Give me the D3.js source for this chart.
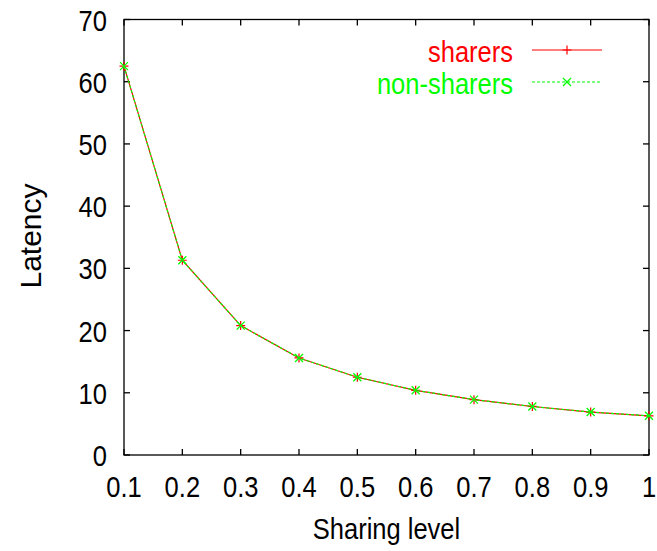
<!DOCTYPE html>
<html>
<head>
<meta charset="utf-8">
<script src="https://cdn.jsdelivr.net/npm/d3@7"></script>
<style>
  html, body { margin: 0; padding: 0; background: #fff; }
  svg { display: block; font-family: "Liberation Sans", Arial, sans-serif; }
</style>
</head>
<body>
<div id="chart"></div>
<script>
const sharingLevel = [0.1, 0.2, 0.3, 0.4, 0.5, 0.6, 0.7, 0.8, 0.9, 1.0];
const sharers = [62.5, 31.3, 20.8, 15.6, 12.5, 10.4, 8.9, 7.8, 6.9, 6.3];
const nonSharers = [62.5, 31.3, 20.8, 15.6, 12.5, 10.4, 8.9, 7.8, 6.9, 6.3];
const xTicks = [0.1, 0.2, 0.3, 0.4, 0.5, 0.6, 0.7, 0.8, 0.9, 1];
const yTicks = [0, 10, 20, 30, 40, 50, 60, 70];

const width = 657;
const height = 551;
const margin = { top: 19.5, right: 8, bottom: 96, left: 124 };
const fontSize = 29;
const squeeze = 0.88;

const svg = d3.select('#chart').append('svg')
  .attr('width', width)
  .attr('height', height);

const scaleX = d3.scaleLinear().domain([0.1, 1]).range([margin.left, width - margin.right]);
const scaleY = d3.scaleLinear().domain([0, 70]).range([height - margin.bottom, margin.top]);

const x0 = scaleX.range()[0], x1 = scaleX.range()[1];
const y0 = scaleY.range()[0], y1 = scaleY.range()[1];
const tickLen = 6;

// helper: narrow-ish text like the gnuplot output
function label(x, y, txt, anchor, color) {
  return svg.append('text')
    .attr('transform', `translate(${x},${y}) scale(${squeeze},1)`)
    .attr('text-anchor', anchor)
    .attr('font-size', fontSize)
    .attr('fill', color || '#000')
    .text(txt);
}

// ticks on all four sides
const tickG = svg.append('g').attr('stroke', '#000').attr('stroke-width', 1.3);
xTicks.forEach(t => {
  const x = scaleX(t);
  tickG.append('line').attr('x1', x).attr('x2', x).attr('y1', y0).attr('y2', y0 - tickLen);
  tickG.append('line').attr('x1', x).attr('x2', x).attr('y1', y1).attr('y2', y1 + tickLen);
  label(x, y0 + 42, t === 1 ? '1' : t.toFixed(1), 'middle');
});
yTicks.forEach(t => {
  const y = scaleY(t);
  tickG.append('line').attr('x1', x0).attr('x2', x0 + tickLen).attr('y1', y).attr('y2', y);
  tickG.append('line').attr('x1', x1).attr('x2', x1 - tickLen).attr('y1', y).attr('y2', y);
  label(x0 - 17, y + 11, String(t), 'end');
});

// frame
svg.append('rect')
  .attr('x', x0).attr('y', y1)
  .attr('width', x1 - x0).attr('height', y0 - y1)
  .attr('fill', 'none').attr('stroke', '#000').attr('stroke-width', 1.3);

// axis titles
label((x0 + x1) / 2, 539, 'Sharing level', 'middle');
svg.append('text')
  .attr('transform', 'translate(41,236) rotate(-90)')
  .attr('text-anchor', 'middle')
  .attr('font-size', 30)
  .text('Latency');

const line = d3.line()
  .x((d, i) => scaleX(sharingLevel[i]))
  .y(d => scaleY(d));

function plus(g, x, y, color) {
  const s = 4.5;
  g.append('path').attr('d', `M${x - s},${y}H${x + s}M${x},${y - s}V${y + s}`)
    .attr('stroke', color).attr('stroke-width', 1.2).attr('fill', 'none');
}
function cross(g, x, y, color) {
  const s = 4;
  g.append('path').attr('d', `M${x - s},${y - s}L${x + s},${y + s}M${x - s},${y + s}L${x + s},${y - s}`)
    .attr('stroke', color).attr('stroke-width', 1.3).attr('fill', 'none');
}

const series = [
  { name: 'sharers', values: sharers, color: '#ff0000', dash: null, marker: plus },
  { name: 'non-sharers', values: nonSharers, color: '#00ff00', dash: '3,2', marker: cross }
];

const plotG = svg.append('g');
series.forEach(s => {
  plotG.append('path')
    .datum(s.values)
    .attr('d', line)
    .attr('fill', 'none')
    .attr('stroke', s.color)
    .attr('stroke-width', 1.2)
    .attr('stroke-dasharray', s.dash);
  s.values.forEach((v, i) => s.marker(plotG, scaleX(sharingLevel[i]), scaleY(v), s.color));
});

// legend
const legendG = svg.append('g');
series.forEach((s, i) => {
  const y = 50 + i * 32;
  label(513, y + 12, s.name, 'end', s.color);
  legendG.append('line')
    .attr('x1', 532).attr('x2', 602).attr('y1', y).attr('y2', y)
    .attr('stroke', s.color).attr('stroke-width', 1.2)
    .attr('stroke-dasharray', s.dash);
  s.marker(legendG, 567, y, s.color);
});
</script>
</body>
</html>
